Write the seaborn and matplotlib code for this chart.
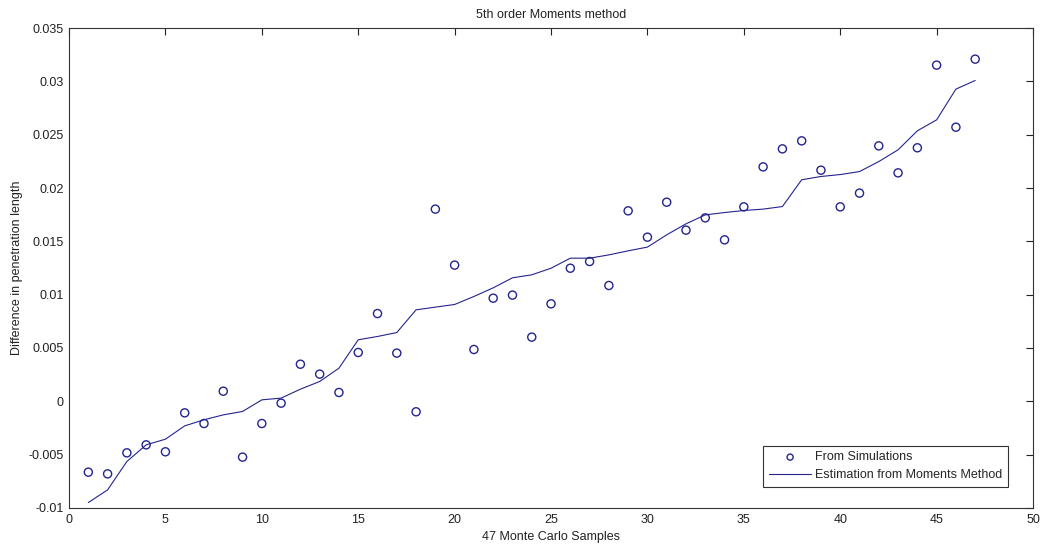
import numpy as np
import pandas as pd
import matplotlib
matplotlib.use("Agg")
import matplotlib.pyplot as plt
import seaborn as sns

# Sample index (1..47)
samples = list(range(1, 48))

# Simulated differences in penetration length
simulated = [
    -0.00664, -0.00680, -0.00483, -0.00408, -0.00473, -0.00108, -0.00208, 0.00095,
    -0.00523, -0.00208, -0.00017, 0.00348, 0.00255, 0.00083, 0.00458, 0.00823,
    0.00452, -0.00098, 0.01802, 0.01277, 0.00486, 0.00967, 0.00996, 0.00602,
    0.00914, 0.01248, 0.01311, 0.01086, 0.01786, 0.01539, 0.01867, 0.01605,
    0.01720, 0.01514, 0.01823, 0.02198, 0.02367, 0.02442, 0.02167, 0.01823,
    0.01952, 0.02395, 0.02142, 0.02377, 0.03152, 0.02570, 0.03208,
]

# Moments-method estimate
estimated = [
    -0.00949, -0.00830, -0.00564, -0.00408, -0.00355, -0.00230, -0.00173, -0.00127,
    -0.00095, 0.00014, 0.00030, 0.00114, 0.00186, 0.00311, 0.00577, 0.00608,
    0.00645, 0.00858, 0.00883, 0.00908, 0.00983, 0.01064, 0.01158, 0.01186,
    0.01248, 0.01342, 0.01342, 0.01373, 0.01411, 0.01446, 0.01561, 0.01664,
    0.01748, 0.01770, 0.01789, 0.01802, 0.01826, 0.02077, 0.02108, 0.02126,
    0.02154, 0.02248, 0.02358, 0.02536, 0.02639, 0.02927, 0.03008,
]

x_ticks = [0, 5, 10, 15, 20, 25, 30, 35, 40, 45, 50]
y_ticks = [-0.01, -0.005, 0, 0.005, 0.01, 0.015, 0.02, 0.025, 0.03, 0.035]
y_tick_labels = ["-0.01", "-0.005", "0", "0.005", "0.01", "0.015", "0.02",
                 "0.025", "0.03", "0.035"]

df = pd.DataFrame({"sample": samples, "sim": simulated, "est": estimated})

sns.set_style("white")
plt.rcParams["font.family"] = ["Liberation Sans", "DejaVu Sans"]

color = "#24248e"
text_color = "#222222"
fs = 9

fig = plt.figure(figsize=(10.46, 5.48), dpi=100)
ax = fig.add_axes([0.0660, 0.0730, 0.9216, 0.8759])

sns.scatterplot(data=df, x="sample", y="sim", ax=ax, marker="o", s=34,
                facecolor="none", edgecolor=color, linewidth=1.0,
                label="From Simulations", zorder=3)
sns.lineplot(data=df, x="sample", y="est", ax=ax, color=color, linewidth=0.8,
             label="Estimation from Moments Method", zorder=2)

ax.set_xlim(0, 50)
ax.set_ylim(-0.01, 0.035)
ax.set_xticks(x_ticks)
ax.set_xticklabels([str(t) for t in x_ticks])
ax.set_yticks(y_ticks)
ax.set_yticklabels(y_tick_labels)

ax.tick_params(axis="both", direction="in", length=5, width=0.8,
               labelsize=fs, colors=text_color, top=True, right=True,
               pad=4)
for side in ["top", "right", "bottom", "left"]:
    ax.spines[side].set_visible(True)
    ax.spines[side].set_color("#333333")
    ax.spines[side].set_linewidth(0.8)

ax.set_xlabel("47 Monte Carlo Samples", fontsize=fs, labelpad=4, color=text_color)
ax.set_ylabel("Difference in penetration length", fontsize=fs, labelpad=4,
              color=text_color)
ax.set_title("5th order Moments method", fontsize=fs, pad=7, color=text_color)

leg = ax.legend(loc="lower right", fontsize=fs, frameon=True, fancybox=False,
                edgecolor="#333333", framealpha=1, borderpad=0.45,
                labelspacing=0.45, handlelength=3.4, handletextpad=0.3,
                markerscale=0.75, bbox_to_anchor=(0.9805, 0.0315))
leg.get_frame().set_linewidth(0.8)

fig.savefig("out.png", dpi=100)
